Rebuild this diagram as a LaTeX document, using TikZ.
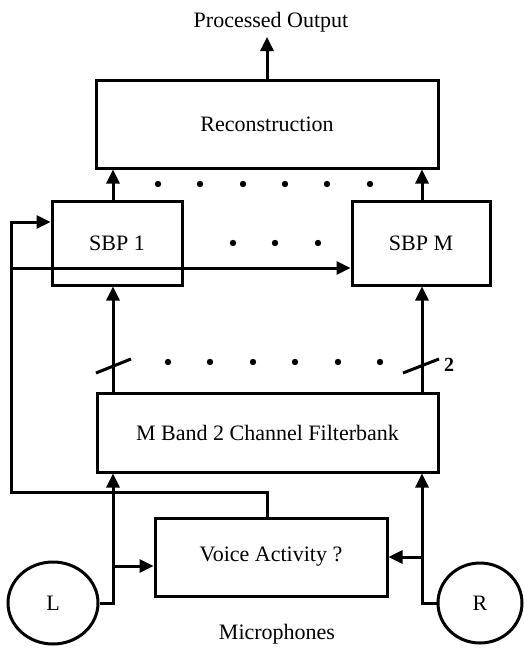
\documentclass[tikz,border=0pt]{standalone}
\usepackage{fontspec}
\setmainfont{Liberation Serif}
\usetikzlibrary{arrows.meta,shapes.geometric}
\begin{document}
\begin{tikzpicture}[x=1pt,y=-1pt,
  every node/.style={font=\fontsize{22}{26}\selectfont},
  blk/.style={draw,line width=3pt,rectangle,inner sep=0pt},
  mic/.style={draw,line width=3pt,ellipse,inner sep=0pt},
  wire/.style={line width=3pt},
  arr/.style={line width=3pt,line join=miter,-{Triangle[length=14pt,width=13pt]}},
  dotmark/.style={fill=black}]
\useasboundingbox (0,0) rectangle (523,648);
% blocks
\node[blk,minimum width=342pt,minimum height=88pt] (Rec) at (267,124) {Reconstruction};
\node[blk,minimum width=130pt,minimum height=84pt] (S1) at (117,243) {SBP 1};
\node[blk,minimum width=138pt,minimum height=84pt] (SM) at (421,243) {SBP M};
\node[blk,minimum width=341pt,minimum height=79pt] (FB) at (267.5,432.5) {M Band 2 Channel Filterbank};
\node[blk,minimum width=232pt,minimum height=78pt] (VA) at (271,557) {Voice Activity ?};
\node[mic,minimum width=90pt,minimum height=82pt] (L) at (53,603) {L};
\node[mic,minimum width=84pt,minimum height=80pt] (R) at (480,603) {R};
\node (out) at (271,22) {Processed Output};
\node (mics) at (277,634) {Microphones};
\node[font=\fontsize{20}{24}\selectfont\bfseries] (two) at (449,365) {2};
% helper coordinates
\coordinate (xl) at (113,0);
\coordinate (xr) at (422,0);
\coordinate (xo) at (267,0);
\coordinate (fb) at (11,0);
\coordinate (outend) at (267,37);
% output
\draw[arr] (xo |- Rec.north) -- (outend);
% SBP to reconstruction
\draw[arr] (xl |- S1.north) -- (xl |- Rec.south);
\draw[arr] (xr |- SM.north) -- (xr |- Rec.south);
% filterbank to SBP
\draw[arr] (xl |- FB.north) -- (xl |- S1.south);
\draw[arr] (xr |- FB.north) -- (xr |- SM.south);
% mics to filterbank
\draw[arr] (L.east) -- (xl |- L.east) -- (xl |- FB.south);
\draw[arr] (R.west) -- (xr |- R.west) -- (xr |- FB.south);
% mics to voice activity
\draw[arr] (113,566) -- (VA.west |- 0,566);
\draw[arr] (xr |- VA.east) -- (VA.east);
% feedback
\draw[arr] (xo |- VA.north) -- (267,492) -- (11,492) -- (11,222) -- (S1.west |- 0,222);
\draw[arr] (11,268) -- (SM.west |- 0,268);
% slashes
\draw[wire] (96,373) -- (131,359);
\draw[wire] (403,373) -- (439,359);
% dots
\foreach \x in {158,200,243,285,327,370} \fill (\x,184) circle (3.2pt);
\foreach \x in {233,275,318} \fill (\x,243) circle (3.2pt);
\foreach \x in {168,210,253,295,338,380} \fill (\x,362) circle (3.2pt);
\end{tikzpicture}
\end{document}
